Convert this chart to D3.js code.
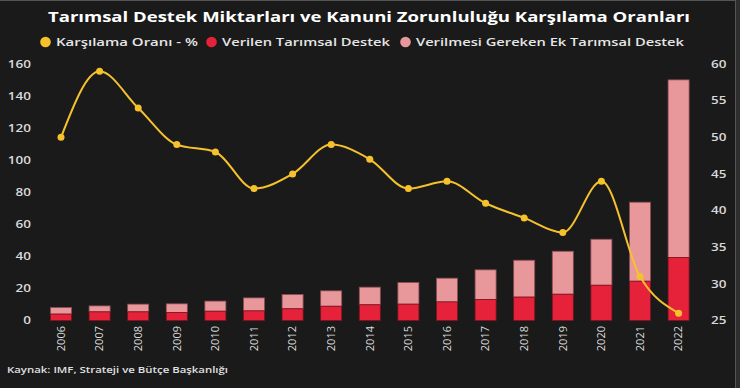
<!DOCTYPE html>
<html>
<head>
<meta charset="utf-8">
<script src="https://cdn.jsdelivr.net/npm/d3@7"></script>
<style>
  body { margin: 0; background: #1a1a1a; }
  svg { display: block; font-family: "Open Sans", "Noto Sans", sans-serif; }
</style>
</head>
<body>
<div id="chart"></div>
<script>
  var years = ["2006", "2007", "2008", "2009", "2010", "2011", "2012", "2013", "2014",
               "2015", "2016", "2017", "2018", "2019", "2020", "2021", "2022"];
  // verilen destek (milyar TL, sol eksen)
  var verilen = [4.0, 5.4, 5.4, 5.0, 5.8, 6.0, 7.3, 8.9, 9.8, 10.2, 11.6, 13.1, 14.6, 16.4, 22.0, 24.5, 39.3];
  // yasal zorunluluk toplami (verilen + ek)
  var toplam = [8.1, 9.1, 10.2, 10.4, 12.1, 14.1, 16.2, 18.5, 20.8, 23.7, 26.4, 31.6, 37.6, 43.2, 50.7, 73.8, 150.1];
  // karsilama orani % (sag eksen)
  var oran = [50, 59, 54, 49, 48, 43, 45, 49, 47, 43, 44, 41, 39, 37, 44, 31, 26];
  var leftTicks = [0, 20, 40, 60, 80, 100, 120, 140, 160];
  var rightTicks = [25, 30, 35, 40, 45, 50, 55, 60];
  var legendLabels = ["Karşılama Oranı - %", "Verilen Tarımsal Destek", "Verilmesi Gereken Ek Tarımsal Destek"];

  var colLine = "#f6c22c", colRed = "#e6223a", colPink = "#e8979b";
  var width = 740, height = 388;
  var sx = 1.35; // yatay gerilme

  // metni yatayda gerer
  function stretch(sel, target) {
    sel.each(function() {
      var w = this.getComputedTextLength();
      d3.select(this).attr("textLength", target || w * sx).attr("lengthAdjust", "spacingAndGlyphs");
    });
  }

  var svg = d3.select("#chart").append("svg").attr("width", width).attr("height", height);
  svg.append("rect").attr("width", width).attr("height", height).attr("fill", "#1a1a1a");
  // kenar cizgileri
  svg.append("rect").attr("x", 735).attr("width", 5).attr("height", height).attr("fill", "#2e2e2e");
  svg.append("line").attr("x1", 0).attr("x2", 735).attr("y1", 0.5).attr("y2", 0.5).attr("stroke", "#555");
  svg.append("line").attr("x1", 735.5).attr("x2", 735.5).attr("y1", 0).attr("y2", height).attr("stroke", "#555");

  var x = d3.scaleBand().domain(years).range([41.7, 697.9]).paddingInner(0.455).paddingOuter(0.2275);
  var y = d3.scaleLinear().domain([0, 160]).range([320.5, 64]);
  var y2 = d3.scaleLinear().domain([25, 60]).range([320.5, 64]);

  svg.append("text").attr("x", 48).attr("y", 21.5)
    .attr("fill", "#fff").attr("font-weight", "bold").attr("font-size", 14)
    .text("Tarımsal Destek Miktarları ve Kanuni Zorunluluğu Karşılama Oranları")
    .call(stretch, 642);

  // legend
  var legendX = [40, 206, 400];
  var legendW = [142, 168, 268];
  [colLine, colRed, colPink].forEach(function(c, i) {
    svg.append("circle").attr("cx", legendX[i] + 5.5).attr("cy", 42).attr("r", 5.3).attr("fill", c);
    svg.append("text").attr("x", legendX[i] + 16).attr("y", 45.8).attr("fill", "#e6e6e6")
      .attr("font-size", 10.5).attr("font-weight", 600).text(legendLabels[i])
      .call(stretch, legendW[i]);
  });

  // axes
  var axL = svg.append("g").attr("transform", "translate(35,0)")
    .call(d3.axisLeft(y).tickValues(leftTicks).tickSize(0).tickPadding(4));
  var axR = svg.append("g").attr("transform", "translate(707,0)")
    .call(d3.axisRight(y2).tickValues(rightTicks).tickSize(0).tickPadding(4));
  var axB = svg.append("g").attr("transform", "translate(0,323)")
    .call(d3.axisBottom(x).tickSize(0).tickPadding(0));
  [axL, axR].forEach(function(a) {
    a.select(".domain").remove();
    a.selectAll("text").attr("fill", "#d9d9d9").attr("font-size", 10).attr("font-weight", 600)
      .attr("font-family", "Open Sans, sans-serif").call(stretch);
  });
  axB.select(".domain").remove();
  axB.selectAll("text").attr("fill", "#d9d9d9").attr("font-size", 11)
    .attr("font-family", "Open Sans, sans-serif").attr("transform", "rotate(-90)")
    .attr("text-anchor", "end").attr("x", -3).attr("y", 0).attr("dy", "0.35em");

  // bars
  var bars = svg.append("g");
  bars.selectAll(".ek").data(years).enter().append("rect")
    .attr("x", function(d) { return x(d); })
    .attr("width", x.bandwidth())
    .attr("y", function(d, i) { return y(toplam[i]); })
    .attr("height", function(d, i) { return y(verilen[i]) - y(toplam[i]); })
    .attr("fill", colPink).attr("stroke", "#8c4d52").attr("stroke-width", 0.8);
  bars.selectAll(".ver").data(years).enter().append("rect")
    .attr("x", function(d) { return x(d); })
    .attr("width", x.bandwidth())
    .attr("y", function(d, i) { return y(verilen[i]); })
    .attr("height", function(d, i) { return y(0) - y(verilen[i]); })
    .attr("fill", colRed).attr("stroke", "#7a1420").attr("stroke-width", 0.8);

  // line
  var cx = function(i) { return x(years[i]) + x.bandwidth() / 2; };
  var line = d3.line().x(function(d, i) { return cx(i); }).y(function(d) { return y2(d); })
    .curve(d3.curveMonotoneX);
  svg.append("path").datum(oran).attr("d", line).attr("fill", "none")
    .attr("stroke", colLine).attr("stroke-width", 2);
  svg.append("g").selectAll("circle").data(oran).enter().append("circle")
    .attr("cx", function(d, i) { return cx(i); })
    .attr("cy", function(d) { return y2(d); })
    .attr("r", 3.5).attr("fill", colLine);

  svg.append("text").attr("x", 7).attr("y", 373).attr("fill", "#e0e0e0").attr("font-size", 8)
    .attr("font-weight", 600).text("Kaynak: IMF, Strateji ve Bütçe Başkanlığı")
    .call(stretch, 221);
</script>
</body>
</html>
